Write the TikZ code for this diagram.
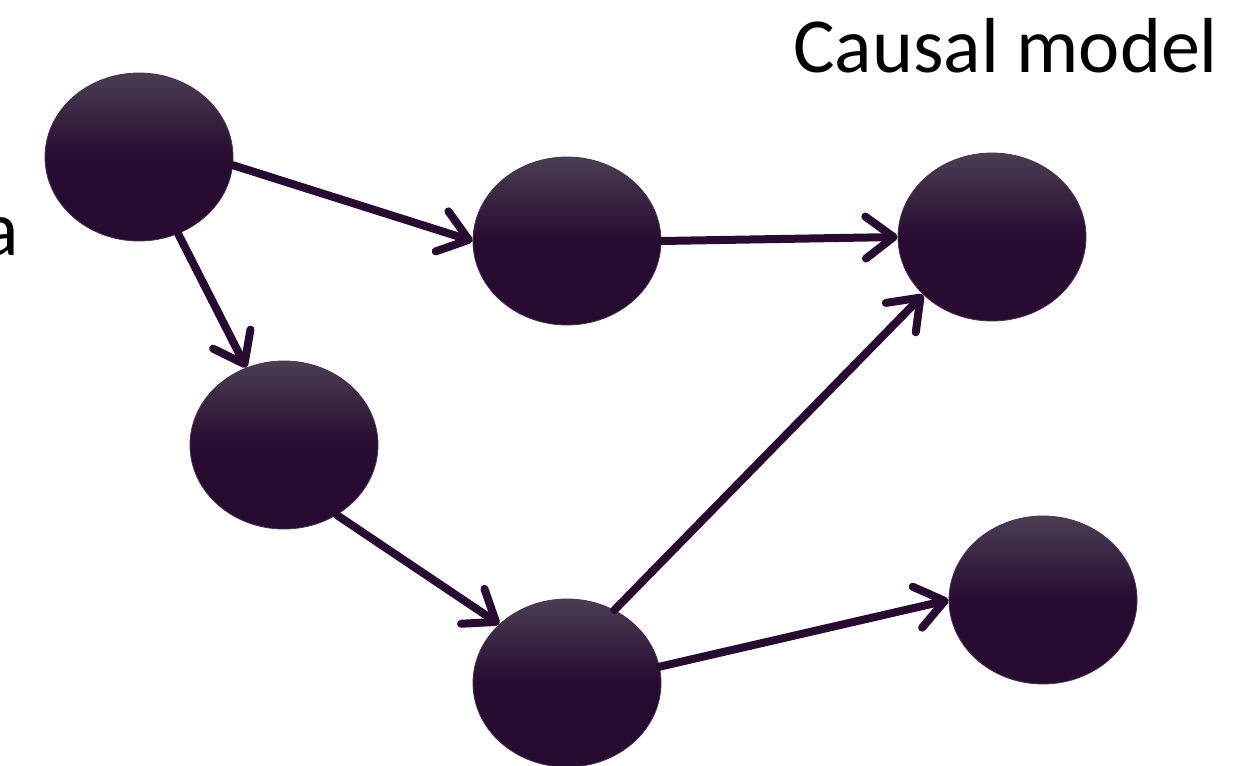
\documentclass[tikz,border=0pt]{standalone}
\usepackage{fontspec}
\setmainfont{Carlito}
\usetikzlibrary{shapes.geometric, arrows.meta}

\definecolor{nodetop}{HTML}{4A3E52}
\definecolor{nodebase}{HTML}{270B31}
\pgfdeclareverticalshading{causeshade}{100bp}{color(0bp)=(nodebase); color(50bp)=(nodebase);
  color(75bp)=(nodetop); color(100bp)=(nodetop)}

\begin{document}
\begin{tikzpicture}[
    x=0.5pt, y=-0.5pt,
    cause/.style = {ellipse, minimum width=94pt, minimum height=84pt, inner sep=0pt,
                    draw=nodebase!85!white, line width=0.4pt, shading=causeshade},
    edge/.style  = {draw=nodebase, line width=4pt, line cap=round,
                    -{Straight Barb[length=14pt, width=21pt, line width=4pt, round]}},
    label/.style = {font=\fontsize{39pt}{47pt}\selectfont, inner sep=0pt},
  ]
  \useasboundingbox (0,0) rectangle (1254,766);

  \node[label, anchor=base west] (title) at (793,72) {Causal model};
  \node[label, anchor=base east] (cut) at (19,255) {a};

  \node[cause] (a) at (139,157) {};
  \node[cause] (b) at (567,241) {};
  \node[cause] (c) at (992,237) {};
  \node[cause] (d) at (284,445) {};
  \node[cause] (e) at (567,683) {};
  \node[cause] (f) at (1043,600) {};

  \draw[edge] (a.-5) -- (b.west);
  \draw[edge] (a.-63) -- (d.116);
  \draw[edge] (b.east) -- (c.west);
  \draw[edge] (d.-53) -- (e.139);
  \draw[edge] (e.57) -- (c.220);
  \draw[edge] (e.10) -- (f.west);
\end{tikzpicture}
\end{document}
